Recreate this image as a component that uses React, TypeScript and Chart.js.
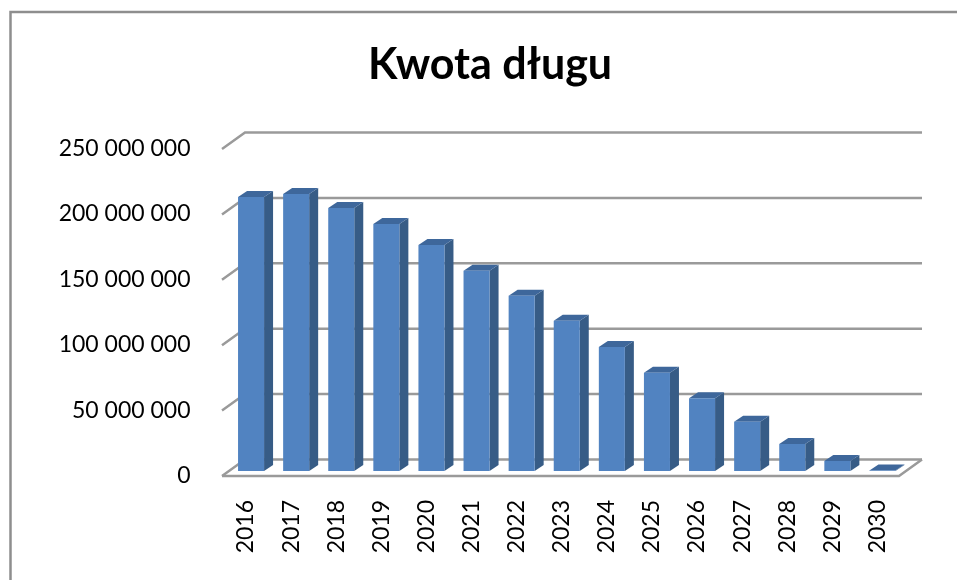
import React, { useEffect, useRef } from "react";
import { Chart, registerables } from "chart.js";

Chart.register(...registerables);

const years = ["2016","2017","2018","2019","2020","2021","2022","2023","2024","2025","2026","2027","2028","2029","2030"];
const debtAmount = [209500000,211800000,201000000,188800000,172800000,153100000,134000000,114900000,94800000,75200000,55600000,37700000,20600000,7600000,300000];
const axisMax = 250000000;
const axisStep = 50000000;
const titleText = "Kwota długu";

const FRONT = "#5183c1";
const SIDE = "#375c86";
const TOP = "#3e679b";
const GRID = "#9a9a9a";
const FRAME = "#8e8e8e";
const BAR_DX = 9;
const BAR_DY = 6;

const poly = (ctx: CanvasRenderingContext2D, pts: number[][]) => {
  ctx.beginPath();
  pts.forEach((p, i) => (i ? ctx.lineTo(p[0], p[1]) : ctx.moveTo(p[0], p[1])));
};

const scene3d = {
  id: "scene3d",
  beforeDatasetsDraw(chart: any) {
    const { ctx, chartArea: a, scales } = chart;
    const y = scales.y;
    ctx.save();
    // outer frame
    ctx.strokeStyle = FRAME;
    ctx.lineWidth = 2.5;
    poly(ctx, [[10.5, 580], [10.5, 12], [957, 12]]);
    ctx.stroke();
    // walls and floor
    ctx.strokeStyle = GRID;
    ctx.lineWidth = 2.5;
    const fl = a.left - 6.5, bl = a.left + 16.5, fr = a.right - 6, br = a.right + 17;
    y.ticks.forEach((t: any) => {
      const p = y.getPixelForValue(t.value);
      poly(ctx, [[fl, p + 5], [bl, p - 11.5], [br, p - 11.5]]);
      ctx.stroke();
    });
    const p0 = y.getPixelForValue(0);
    poly(ctx, [[fl, p0 + 5], [fr, p0 + 5], [br, p0 - 11.5]]);
    ctx.stroke();
    // bar depth faces
    chart.getDatasetMeta(0).data.forEach((bar: any) => {
      const { x, y: top, base, width } = bar.getProps(["x", "y", "base", "width"], true);
      const l = x - width / 2, r = x + width / 2;
      ctx.fillStyle = SIDE;
      poly(ctx, [[r, top], [r + BAR_DX, top - BAR_DY], [r + BAR_DX, base - BAR_DY], [r, base]]);
      ctx.closePath();
      ctx.fill();
      ctx.fillStyle = TOP;
      poly(ctx, [[l, top], [l + BAR_DX, top - BAR_DY], [r + BAR_DX, top - BAR_DY], [r, top]]);
      ctx.closePath();
      ctx.fill();
    });
    ctx.restore();
  },
};

export default function App() {
  const ref = useRef<HTMLCanvasElement>(null);
  useEffect(() => {
    const chart = new Chart(ref.current!, {
      type: "bar",
      plugins: [scene3d],
      data: {
        labels: years,
        datasets: [
          {
            label: titleText,
            data: debtAmount,
            backgroundColor: FRONT,
            categoryPercentage: 1,
            barPercentage: 0.577,
          },
        ],
      },
      options: {
        responsive: false,
        animation: false,
        layout: { autoPadding: false, padding: { left: 23, top: 0, right: 0, bottom: 0 } },
        plugins: {
          legend: { display: false },
          tooltip: { enabled: false },
          title: {
            display: true,
            text: titleText,
            color: "#000000",
            font: { family: "Lato", size: 43, weight: "bold" },
            padding: { top: 39.2, bottom: 53.2 },
          },
        },
        scales: {
          x: {
            grid: { display: false, drawTicks: false },
            border: { display: false },
            afterFit: (s: any) => { s.height = 109; },
            ticks: {
              color: "#000000",
              font: { family: "Lato", size: 23 },
              minRotation: 90,
              maxRotation: 90,
              padding: 29,
              labelOffset: -5,
              autoSkip: false,
            },
          },
          y: {
            min: 0,
            max: axisMax,
            grid: { display: false, drawTicks: false },
            border: { display: false },
            afterFit: (s: any) => { s.width = 205.5; },
            ticks: {
              stepSize: axisStep,
              color: "#000000",
              font: { family: "Lato", size: 23 },
              padding: 38,
              labelOffset: 4.5,
              callback: (v: any) => String(v).replace(/\B(?=(\d{3})+$)/g, " "),
            },
          },
          spacer: {
            position: "right",
            min: 0,
            max: axisMax,
            grid: { display: false, drawTicks: false },
            border: { display: false },
            ticks: { display: false },
            afterFit: (s: any) => { s.width = 52; },
          },
        },
      },
    } as any);
    return () => chart.destroy();
  }, []);
  return (
    <canvas
      ref={ref}
      width={957}
      height={580}
      style={{ position: "absolute", left: 0, top: 0, display: "block", filter: "blur(0.4px)" }}
    />
  );
}
